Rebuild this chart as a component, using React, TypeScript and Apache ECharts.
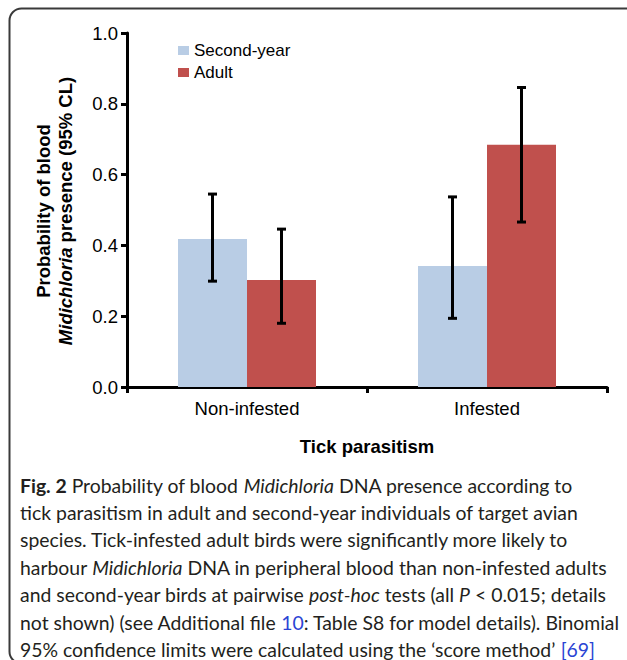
import React, { useEffect, useRef } from "react";
import * as echarts from "echarts";

const categories = ["Non-infested", "Infested"];
const seriesNames = ["Second-year", "Adult"];
const secondYear = [0.418, 0.342];
const adult = [0.302, 0.684];
const secondYearLow = [0.299, 0.194];
const secondYearHigh = [0.545, 0.537];
const adultLow = [0.18, 0.466];
const adultHigh = [0.446, 0.846];
const yTicks = [0, 0.2, 0.4, 0.6, 0.8, 1.0];

const captionLines = [
  "{b|Fig. 2} Probability of blood {i|Midichloria} DNA presence according to",
  "tick parasitism in adult and second-year individuals of target avian",
  "species. Tick-infested adult birds were significantly more likely to",
  "harbour {i|Midichloria} DNA in peripheral blood than non-infested adults",
  "and second-year birds at pairwise {i|post-hoc} tests (all {i|P} < 0.015; details",
  "not shown) (see Additional file {l|10}: Table S8 for model details). Binomial",
  "95% confidence limits were calculated using the \u2018score method\u2019 {l|[69]}",
];

const FONT = 'Arial, "Liberation Sans", sans-serif';
const CAP_FONT = 'Lato, "Open Sans", sans-serif';
const CAP_SIZE = 19.4;
const CAP_LH = 20;
const BAR_W = 69;

export default function App() {
  const ref = useRef<HTMLDivElement>(null);
  useEffect(() => {
    const chart = echarts.init(ref.current!, null, { renderer: "svg" });
    const errSeries = (name: string, low: number[], high: number[], offset: number) => ({
      type: "custom",
      name,
      z: 5,
      data: low.map((l, i) => [i, l, high[i]]),
      renderItem: (params: any, api: any) => {
        const idx = api.value(0);
        const x = api.coord([idx, 0])[0] + offset;
        const yLo = api.coord([idx, api.value(1)])[1];
        const yHi = api.coord([idx, api.value(2)])[1];
        const st = { stroke: "#000", lineWidth: 3 };
        return {
          type: "group",
          children: [
            { type: "line", shape: { x1: x, y1: yLo, x2: x, y2: yHi }, style: st },
            { type: "line", shape: { x1: x - 4.5, y1: yLo, x2: x + 4.5, y2: yLo }, style: st },
            { type: "line", shape: { x1: x - 4.5, y1: yHi, x2: x + 4.5, y2: yHi }, style: st },
          ],
        };
      },
    });
    const graphics: any[] = [
      {
        type: "rect",
        shape: { x: 9.5, y: 8.5, width: 640, height: 655, r: 12 },
        style: { fill: "none", stroke: "#3a3a3a", lineWidth: 2 },
        silent: true,
      },
      {
        type: "text",
        x: 54,
        y: 211,
        rotation: Math.PI / 2,
        style: {
          text: "{b|Probability of blood}\n{i|Midichloria}{b| presence (95% CL)}",
          align: "center",
          verticalAlign: "middle",
          rich: {
            b: { fontFamily: FONT, fontWeight: "bold", fontSize: 18.5, lineHeight: 22, fill: "#000" },
            i: { fontFamily: FONT, fontWeight: "bold", fontStyle: "italic", fontSize: 18.5, lineHeight: 22, fill: "#000" },
          },
        },
      },
      {
        type: "text",
        x: 367,
        y: 446,
        style: {
          text: "Tick parasitism",
          fontFamily: FONT,
          fontWeight: "bold",
          fontSize: 18.5,
          fill: "#000",
          align: "center",
          verticalAlign: "middle",
        },
      },
    ];
    captionLines.forEach((t, k) => {
      graphics.push({
        type: "text",
        x: 20,
        y: 485 + k * 27.4,
        style: {
          text: t,
          fontFamily: CAP_FONT,
          fontSize: CAP_SIZE,
          lineHeight: CAP_LH,
          fill: "#231f20",
          verticalAlign: "middle",
          rich: {
            b: { fontFamily: CAP_FONT, fontSize: CAP_SIZE, lineHeight: CAP_LH, fontWeight: "bold", fill: "#231f20" },
            i: { fontFamily: CAP_FONT, fontSize: CAP_SIZE, lineHeight: CAP_LH, fontStyle: "italic", fill: "#231f20" },
            l: { fontFamily: CAP_FONT, fontSize: CAP_SIZE, lineHeight: CAP_LH, fill: "#2a44d4" },
          },
        },
      });
    });
    chart.setOption({
      animation: false,
      backgroundColor: "#fff",
      grid: { left: 127, right: 20, top: 33, bottom: 273 },
      legend: {
        data: seriesNames,
        orient: "vertical",
        left: 178,
        top: 42,
        padding: 0,
        itemWidth: 11,
        itemHeight: 9,
        itemGap: 5,
        icon: "rect",
        textStyle: { fontFamily: FONT, fontSize: 17, color: "#000", lineHeight: 17 },
      },
      xAxis: {
        type: "category",
        data: categories,
        axisLine: { lineStyle: { color: "#000", width: 3 } },
        axisTick: { show: true, length: 6, lineStyle: { color: "#000", width: 3 } },
        axisLabel: { fontFamily: FONT, fontSize: 18.5, color: "#000", margin: 12 },
      },
      yAxis: {
        type: "value",
        min: 0,
        max: 1,
        interval: 0.2,
        axisLine: { show: true, lineStyle: { color: "#000", width: 3 } },
        axisTick: { show: true, length: 6, lineStyle: { color: "#000", width: 3 } },
        splitLine: { show: false },
        axisLabel: {
          fontFamily: FONT,
          fontSize: 18.5,
          color: "#000",
          margin: 9,
          formatter: (v: number) => (yTicks.includes(Math.round(v * 10) / 10) ? v.toFixed(1) : ""),
        },
      },
      series: [
        { type: "bar", name: seriesNames[0], data: secondYear, barWidth: BAR_W, barGap: "0%", itemStyle: { color: "#b9cde5" } },
        { type: "bar", name: seriesNames[1], data: adult, barWidth: BAR_W, barGap: "0%", itemStyle: { color: "#c0504d" } },
        errSeries("err-sy", secondYearLow, secondYearHigh, -BAR_W / 2),
        errSeries("err-ad", adultLow, adultHigh, BAR_W / 2),
      ],
      graphic: graphics,
    });
    return () => chart.dispose();
  }, []);
  return (
    <div
      ref={ref}
      style={{ position: "absolute", left: 0, top: 0, width: 627, height: 660 }}
    />
  );
}
